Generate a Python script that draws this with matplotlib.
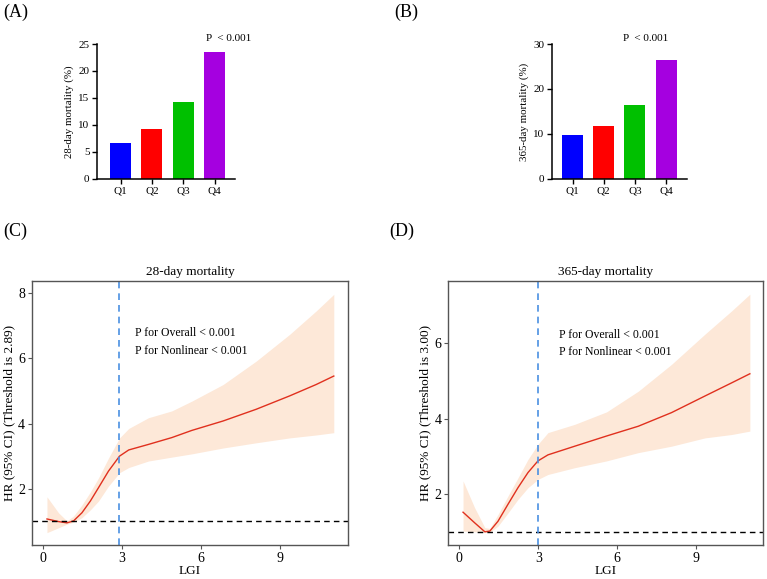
import matplotlib
matplotlib.use("Agg")
import matplotlib.pyplot as plt

plt.rcParams["font.family"] = ["Liberation Serif", "DejaVu Serif"]

# ---- bar panels (A, B) ----
quartiles = ["Q1", "Q2", "Q3", "Q4"]
mort_28 = [6.6, 9.2, 14.2, 23.6]
mort_365 = [9.7, 11.8, 16.4, 26.4]
bar_colors = ["#0000FF", "#FF0000", "#00C000", "#A500E0"]

# ---- RCS panels (C, D) ----
c_lgi = [0.14, 0.58, 0.90, 1.15, 1.47, 1.79, 2.10, 2.48, 2.90, 3.25, 4.00, 4.89, 5.65, 6.84, 8.10, 9.37, 10.38, 11.05]
c_hr = [1.07, 0.99, 0.95, 1.01, 1.26, 1.62, 2.03, 2.54, 3.00, 3.19, 3.36, 3.57, 3.79, 4.08, 4.44, 4.85, 5.20, 5.46]
c_upper = [1.75, 1.26, 1.01, 1.16, 1.50, 1.90, 2.33, 2.94, 3.56, 3.85, 4.18, 4.39, 4.69, 5.20, 5.92, 6.74, 7.46, 7.97]
c_lower = [0.65, 0.80, 0.91, 0.97, 1.11, 1.35, 1.62, 2.08, 2.49, 2.65, 2.85, 2.97, 3.07, 3.25, 3.41, 3.56, 3.65, 3.72]
c_threshold = 2.89

d_lgi = [0.14, 0.58, 0.97, 1.16, 1.47, 1.85, 2.23, 2.61, 2.99, 3.37, 4.39, 5.60, 6.81, 8.07, 9.34, 10.36, 11.05]
d_hr = [1.52, 1.24, 1.00, 1.02, 1.28, 1.73, 2.17, 2.57, 2.88, 3.04, 3.27, 3.54, 3.80, 4.16, 4.60, 4.95, 5.19]
d_upper = [2.35, 1.64, 1.11, 1.09, 1.46, 1.95, 2.43, 2.92, 3.32, 3.63, 3.85, 4.18, 4.73, 5.44, 6.24, 6.86, 7.30]
d_lower = [1.02, 1.00, 0.98, 0.99, 1.15, 1.50, 1.86, 2.17, 2.39, 2.52, 2.70, 2.88, 3.10, 3.27, 3.49, 3.58, 3.67]
d_threshold = 3.00


def bar_panel(ax, values, ylabel, ymax, yticks, xlim, ptext_xy):
    pos = list(range(len(quartiles)))
    ax.bar(pos, values, width=0.67, color=bar_colors)
    ax.set_xlim(*xlim)
    ax.set_ylim(0, ymax)
    ax.set_yticks(yticks)
    ax.set_xticks(pos)
    ax.set_xticklabels(quartiles)
    for s in ["top", "right"]:
        ax.spines[s].set_visible(False)
    for s in ["left", "bottom"]:
        ax.spines[s].set_linewidth(1.1)
    ax.tick_params(direction="out", length=3.5, width=1, labelsize=8, pad=2)
    ax.set_ylabel(ylabel, fontsize=7.8, labelpad=3)
    ax.text(ptext_xy[0], ptext_xy[1], "P  < 0.001", fontsize=8,
            ha="center", va="center", clip_on=False)


def rcs_panel(ax, x, hr, lo, hi, thr, title, xlim, ylim, yticks, txt_xy):
    ax.fill_between(x, lo, hi, color="#FDE8D8", linewidth=0)
    ax.plot(x, hr, color="#E0301E", linewidth=1.0)
    ax.axhline(1, color="black", linestyle=(0, (4, 3)), linewidth=1.0)
    ax.axvline(thr, color="#4A90E2", linestyle=(0, (4, 3)), linewidth=1.2)
    ax.set_xlim(*xlim)
    ax.set_ylim(*ylim)
    ax.set_xticks([0, 3, 6, 9])
    ax.set_yticks(yticks)
    for s in ax.spines.values():
        s.set_color("#555555")
        s.set_linewidth(1.0)
    ax.tick_params(direction="out", length=3, width=0.8, color="#555555",
                   labelsize=10, pad=2)
    ax.set_title(title, fontsize=9.5, pad=4)
    ax.set_xlabel("LGI", fontsize=9.5, labelpad=0)
    ax.set_ylabel(f"HR (95% CI) (Threshold is {thr:.2f})", fontsize=9.5, labelpad=2)
    ax.text(txt_xy[0], txt_xy[1], "P for Overall < 0.001\nP for Nonlinear < 0.001",
            fontsize=8.5, ha="left", va="center", linespacing=1.6)


fig = plt.figure(figsize=(7.67, 5.79), dpi=100)

ax_a = fig.add_axes([0.1265, 0.691, 0.180, 0.233])
bar_panel(ax_a, mort_28, "28-day mortality (%)", 25, [0, 5, 10, 15, 20, 25],
          (-0.75, 3.65), (3.45, 26.0))

ax_b = fig.add_axes([0.7193, 0.691, 0.1764, 0.233])
bar_panel(ax_b, mort_365, "365-day mortality (%)", 30, [0, 10, 20, 30],
          (-0.67, 3.67), (2.34, 31.2))

ax_c = fig.add_axes([0.0417, 0.0587, 0.412, 0.456])
rcs_panel(ax_c, c_lgi, c_hr, c_lower, c_upper, c_threshold, "28-day mortality",
          (-0.43, 11.59), (0.27, 8.38), [2, 4, 6, 8], (3.5, 6.5))

ax_d = fig.add_axes([0.5845, 0.0587, 0.4103, 0.456])
rcs_panel(ax_d, d_lgi, d_hr, d_lower, d_upper, d_threshold, "365-day mortality",
          (-0.42, 11.55), (0.65, 7.65), [2, 4, 6], (3.8, 6.0))

for lab, xf, yf in [("(A)", 0.004, 0.978), ("(B)", 0.514, 0.978),
                    ("(C)", 0.004, 0.600), ("(D)", 0.507, 0.600)]:
    fig.text(xf, yf, lab, fontsize=13, ha="left", va="center")

fig.savefig("out.png", dpi=100)
